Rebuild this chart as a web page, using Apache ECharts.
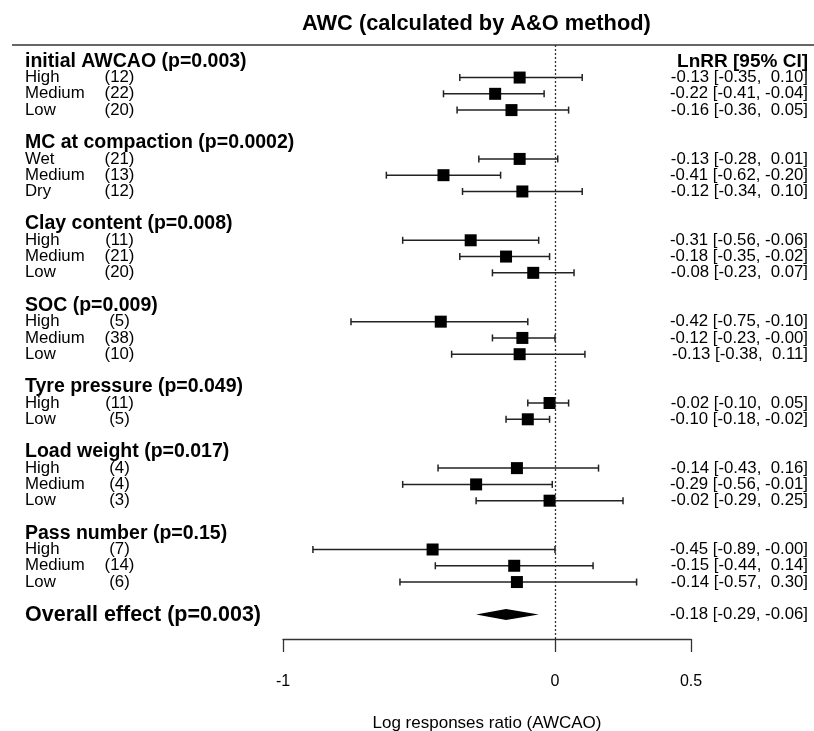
<!DOCTYPE html>
<html>
<head>
<meta charset="utf-8">
<script src="https://cdn.jsdelivr.net/npm/echarts@6/dist/echarts.min.js"></script>
<style>
  html, body { margin: 0; padding: 0; background: #fff; }
  #chart { width: 814px; height: 731px; }
</style>
</head>
<body>
<div id="chart"></div>
<script>
// ---------------- data ----------------
const chartTitle = "AWC (calculated by A&O method)";
const xAxisTitle = "Log responses ratio (AWCAO)";
const ciHeader = "LnRR [95% CI]";
const groupTitles = [
  "initial AWCAO (p=0.003)",
  "MC at compaction (p=0.0002)",
  "Clay content (p=0.008)",
  "SOC (p=0.009)",
  "Tyre pressure (p=0.049)",
  "Load weight (p=0.017)",
  "Pass number (p=0.15)"
];
const groupLevels = [
  ["High", "Medium", "Low"],
  ["Wet", "Medium", "Dry"],
  ["High", "Medium", "Low"],
  ["High", "Medium", "Low"],
  ["High", "Low"],
  ["High", "Medium", "Low"],
  ["High", "Medium", "Low"]
];
const groupCounts = [[12, 22, 20], [21, 13, 12], [11, 21, 20], [5, 38, 10], [11, 5], [4, 4, 3], [7, 14, 6]];
const groupEst = [[-0.13, -0.22, -0.16], [-0.13, -0.41, -0.12], [-0.31, -0.18, -0.08], [-0.42, -0.12, -0.13], [-0.02, -0.10], [-0.14, -0.29, -0.02], [-0.45, -0.15, -0.14]];
const groupLo = [[-0.35, -0.41, -0.36], [-0.28, -0.62, -0.34], [-0.56, -0.35, -0.23], [-0.75, -0.23, -0.38], [-0.10, -0.18], [-0.43, -0.56, -0.29], [-0.89, -0.44, -0.57]];
const groupHi = [[0.10, -0.04, 0.05], [0.01, -0.20, 0.10], [-0.06, -0.02, 0.07], [-0.10, -0.00, 0.11], [0.05, -0.02], [0.16, -0.01, 0.25], [-0.00, 0.14, 0.30]];
const overallLabel = "Overall effect (p=0.003)";
const overallEst = -0.18;
const overallLo = -0.29;
const overallHi = -0.06;
const xTicks = [-1, 0, 0.5];

// ---------------- build rows ----------------
function fmt(v, pad) {
  const neg = v < 0 || Object.is(v, -0);
  const s = Math.abs(v).toFixed(2);
  return neg ? "-" + s : (pad ? " " + s : s);
}
function ciText(e, l, h) {
  return fmt(e, false) + " [" + fmt(l, true) + ", " + fmt(h, true) + "]";
}

const headerRows = [];   // [x, row, text]
const itemRows = [];     // [est, lo, hi, row, label, n, ci]
let r = 0;
groupTitles.forEach((t, g) => {
  headerRows.push([0, r, t]);
  groupLevels[g].forEach((lab, i) => {
    const row = r + 1 + i;
    itemRows.push([groupEst[g][i], groupLo[g][i], groupHi[g][i], row, lab, groupCounts[g][i],
      ciText(groupEst[g][i], groupLo[g][i], groupHi[g][i])]);
  });
  r += groupLevels[g].length + 2;
});
const overallRow = r;

const FONT = '"Liberation Sans", Arial, Helvetica, sans-serif';
const LINE = '#222';

const chart = echarts.init(document.getElementById('chart'), null, { renderer: 'canvas' });

const option = {
  backgroundColor: '#fff',
  animation: false,
  title: {
    text: chartTitle,
    left: 297,
    top: 8,
    textStyle: { fontFamily: FONT, fontSize: 21.8, fontWeight: 'bold', color: '#000' }
  },
  grid: { left: 283, right: 123, top: 45, bottom: 92, outerBoundsMode: 'none', containLabel: false },
  xAxis: {
    type: 'value',
    position: 'bottom',
    min: -1,
    max: 0.5,
    splitLine: { show: false },
    axisLine: { show: true, onZero: false, lineStyle: { color: '#333', width: 1.3 } },
    axisTick: { show: true, length: 13, customValues: xTicks, lineStyle: { color: '#333', width: 1.3 } },
    axisLabel: {
      customValues: xTicks,
      margin: 35,
      fontFamily: FONT, fontSize: 16, color: '#000',
      formatter: v => String(v)
    },
    name: xAxisTitle,
    nameLocation: 'middle',
    nameGap: 76,
    nameTextStyle: { fontFamily: FONT, fontSize: 17, color: '#000' }
  },
  yAxis: {
    type: 'value',
    inverse: true,
    min: -1,
    max: 35.5,
    show: false
  },
  graphic: [
    { type: 'line', shape: { x1: 12, y1: 45, x2: 814, y2: 45 }, style: { stroke: '#333', lineWidth: 1.5 } }
  ],
  series: [
    {
      type: 'custom',
      name: 'estimates',
      clip: false,
      data: itemRows.map(d => [d[0], d[1], d[2], d[3]]),
      encode: { x: [0, 1, 2], y: 3 },
      renderItem: (params, api) => {
        const e = api.coord([api.value(0), api.value(3)]);
        const lo = api.coord([api.value(1), api.value(3)]);
        const hi = api.coord([api.value(2), api.value(3)]);
        const y = e[1];
        const cap = 3.5;
        const sz = 12;
        return {
          type: 'group',
          children: [
            { type: 'line', shape: { x1: lo[0], y1: y, x2: hi[0], y2: y }, style: { stroke: LINE, lineWidth: 1.5 } },
            { type: 'line', shape: { x1: lo[0], y1: y - cap, x2: lo[0], y2: y + cap }, style: { stroke: LINE, lineWidth: 1.5 } },
            { type: 'line', shape: { x1: hi[0], y1: y - cap, x2: hi[0], y2: y + cap }, style: { stroke: LINE, lineWidth: 1.5 } },
            { type: 'rect', shape: { x: e[0] - sz / 2, y: y - sz / 2, width: sz, height: sz }, style: { fill: '#000' } }
          ]
        };
      },
      markLine: {
        silent: true,
        symbol: 'none',
        label: { show: false },
        lineStyle: { color: '#333', width: 1.3, type: [2, 2] },
        data: [{ xAxis: 0 }]
      },
      z: 3
    },
    {
      type: 'custom',
      name: 'overall',
      clip: false,
      data: [[overallEst, overallLo, overallHi, overallRow]],
      encode: { x: [0, 1, 2], y: 3 },
      renderItem: (params, api) => {
        const e = api.coord([api.value(0), api.value(3)]);
        const lo = api.coord([api.value(1), api.value(3)]);
        const hi = api.coord([api.value(2), api.value(3)]);
        const y = e[1];
        const h = 5.5;
        return {
          type: 'polygon',
          shape: { points: [[lo[0], y], [e[0], y - h], [hi[0], y], [e[0], y + h]] },
          style: { fill: '#000' }
        };
      },
      z: 3
    },
    {
      type: 'custom',
      name: 'headers',
      clip: false,
      data: headerRows.map(d => [d[0], d[1]]),
      encode: { x: 0, y: 1 },
      renderItem: (params, api) => {
        const y = api.coord([0, api.value(1)])[1];
        return {
          type: 'text',
          style: {
            text: headerRows[params.dataIndex][2],
            x: 25, y: y,
            fill: '#000',
            font: 'bold 19.5px ' + FONT,
            align: 'left', verticalAlign: 'middle'
          }
        };
      }
    },
    {
      type: 'custom',
      name: 'rowtext',
      clip: false,
      data: itemRows.map(d => [0, d[3]]),
      encode: { x: 0, y: 1 },
      renderItem: (params, api) => {
        const y = api.coord([0, api.value(1)])[1];
        const d = itemRows[params.dataIndex];
        const f = '16.8px ' + FONT;
        return {
          type: 'group',
          children: [
            { type: 'text', style: { text: d[4], x: 25, y: y, fill: '#000', font: f, align: 'left', verticalAlign: 'middle' } },
            { type: 'text', style: { text: '(' + d[5] + ')', x: 119.5, y: y, fill: '#000', font: f, align: 'center', verticalAlign: 'middle' } },
            { type: 'text', style: { text: d[6], x: 808, y: y, fill: '#000', font: f, align: 'right', verticalAlign: 'middle' } }
          ]
        };
      }
    },
    {
      type: 'custom',
      name: 'overalltext',
      clip: false,
      data: [[0, overallRow]],
      encode: { x: 0, y: 1 },
      renderItem: (params, api) => {
        const y = api.coord([0, api.value(1)])[1];
        return {
          type: 'group',
          children: [
            { type: 'text', style: { text: overallLabel, x: 25, y: y, fill: '#000', font: 'bold 21.5px ' + FONT, align: 'left', verticalAlign: 'middle' } },
            { type: 'text', style: { text: ciText(overallEst, overallLo, overallHi), x: 808, y: y, fill: '#000', font: '16.8px ' + FONT, align: 'right', verticalAlign: 'middle' } }
          ]
        };
      }
    },
    {
      type: 'custom',
      name: 'cihead',
      clip: false,
      data: [[0, 0]],
      encode: { x: 0, y: 1 },
      renderItem: (params, api) => {
        const y = api.coord([0, api.value(1)])[1];
        return {
          type: 'text',
          style: { text: ciHeader, x: 808, y: y, fill: '#000', font: 'bold 19px ' + FONT, align: 'right', verticalAlign: 'middle' }
        };
      }
    }
  ]
};
chart.setOption(option);
</script>
</body>
</html>
